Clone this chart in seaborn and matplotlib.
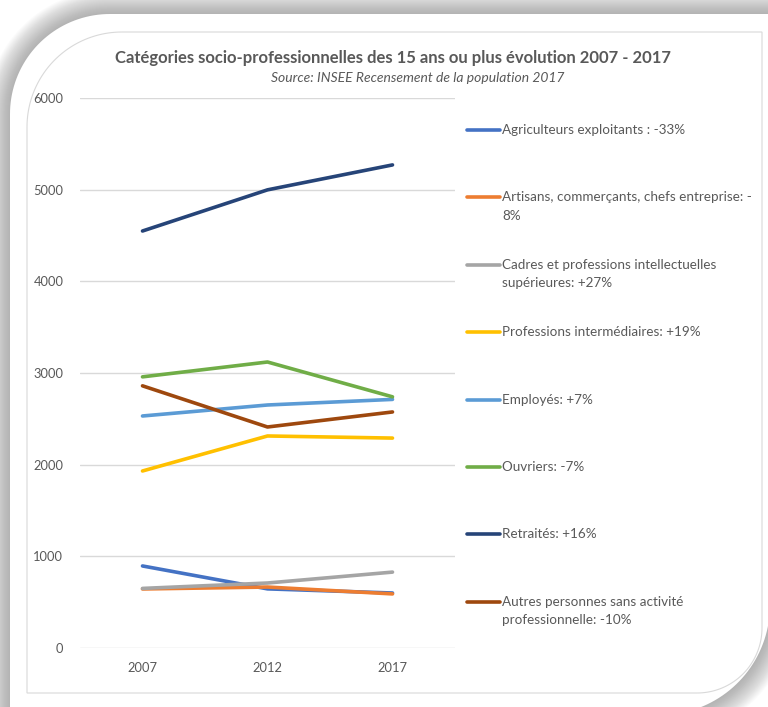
import numpy as np
import pandas as pd
import matplotlib
matplotlib.use("Agg")
import matplotlib.pyplot as plt
import seaborn as sns
from matplotlib.patches import Polygon
from matplotlib.lines import Line2D

# data
years = ["2007", "2012", "2017"]
categories = [
    "Agriculteurs exploitants : -33%",
    "Artisans, commerçants, chefs entreprise: -\n8%",
    "Cadres et professions intellectuelles\nsupérieures: +27%",
    "Professions intermédiaires: +19%",
    "Employés: +7%",
    "Ouvriers: -7%",
    "Retraités: +16%",
    "Autres personnes sans activité\nprofessionnelle: -10%",
]
agriculteurs = [895, 645, 600]
artisans = [644, 665, 590]
cadres = [650, 709, 828]
intermediaires = [1931, 2313, 2290]
employes = [2531, 2651, 2712]
ouvriers = [2958, 3120, 2740]
retraites = [4549, 4998, 5270]
autres = [2860, 2411, 2575]
colors = ["#4472C4", "#ED7D31", "#A5A5A5", "#FFC000",
          "#5B9BD5", "#70AD47", "#264478", "#9E480E"]

series = [agriculteurs, artisans, cadres, intermediaires,
          employes, ouvriers, retraites, autres]
df = pd.DataFrame({
    "Année": years * len(categories),
    "Valeur": [v for s in series for v in s],
    "Catégorie": [c for c in categories for _ in years],
})

sns.set_style("white")
plt.rcParams["font.family"] = ["Lato", "DejaVu Sans"]
TXT = "#595959"

W, H = 768, 707
fig = plt.figure(figsize=(W / 100, H / 100), dpi=100)


def to_fig(x, y):
    return (x / W, 1 - y / H)


def card_shape(x0, y0, x1, y1, r1, r2, e=0):
    x0, y0, x1, y1, r1, r2 = x0 - e, y0 - e, x1 + e, y1 + e, r1 + e, r2 + e
    pts = []
    for t in np.linspace(np.pi, np.pi / 2, 40):
        pts.append((x0 + r1 + r1 * np.cos(t), y0 + r1 - r1 * np.sin(t)))
    pts.append((x1, y0))
    for t in np.linspace(0, -np.pi / 2, 40):
        pts.append((x1 - r2 + r2 * np.cos(t), y1 - r2 - r2 * np.sin(t)))
    pts.append((x0, y1))
    return [to_fig(px, py) for px, py in pts]


# card shadow + card + inner border (behind the axes)
for k in range(24, 0, -1):
    fig.add_artist(Polygon(card_shape(10, 14, 770, 715, 100, 110, e=k),
                           closed=True, transform=fig.transFigure, zorder=-10,
                           facecolor="#808080", edgecolor="none", alpha=0.032))
fig.add_artist(Polygon(card_shape(10, 14, 770, 715, 100, 110),
                       closed=True, transform=fig.transFigure, zorder=-9,
                       facecolor="white", edgecolor="none"))
fig.add_artist(Polygon(card_shape(27, 32, 762, 693, 95, 65),
                       closed=True, transform=fig.transFigure, zorder=-8,
                       facecolor="none", edgecolor="#d9d9d9", lw=0.8))

ax = fig.add_axes([80 / W, 1 - 648 / H, 375 / W, 550 / H])
ax.patch.set_alpha(0)
sns.lineplot(data=df, x="Année", y="Valeur", hue="Catégorie",
             hue_order=categories, palette=colors, lw=2.6,
             legend=False, ax=ax, solid_capstyle="round")
ax.set_xlim(-0.5, 2.5)
ax.set_ylim(0, 6000)
ax.set_yticks(range(0, 6001, 1000))
ax.yaxis.grid(True, color="#d9d9d9", lw=1)
ax.set_axisbelow(True)
for s in ax.spines.values():
    s.set_visible(False)
ax.tick_params(length=0, labelsize=9.3, labelcolor=TXT)
ax.tick_params(axis="y", pad=12)
ax.tick_params(axis="x", pad=10)
ax.set_xlabel("")
ax.set_ylabel("")

fig.text(*to_fig(393, 58), "Catégories socio-professionnelles des 15 ans ou plus évolution 2007 - 2017",
         ha="center", va="center", fontsize=12, fontweight="bold", color=TXT)
fig.text(*to_fig(418, 78), "Source: INSEE Recensement de la population 2017",
         ha="center", va="center", fontsize=10, style="italic", color=TXT)

# legend
for i, (lab, col) in enumerate(zip(categories, colors)):
    yc = 130 + i * 67.4
    fig.add_artist(Line2D([467 / W, 500 / W], [1 - yc / H] * 2, color=col,
                          lw=2.6, transform=fig.transFigure))
    fig.text(*to_fig(502, yc - 6), lab, ha="left", va="top",
             fontsize=9.7, color=TXT, linespacing=1.65)

fig.savefig("out.png", dpi=100)
